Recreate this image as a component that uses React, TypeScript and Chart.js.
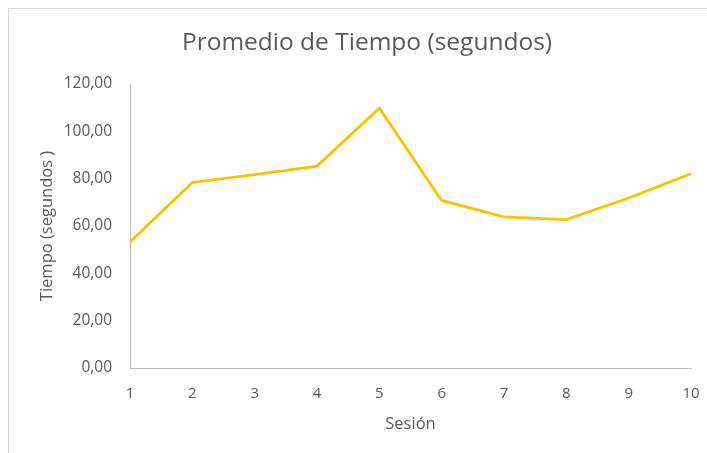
import React, { useEffect, useRef } from 'react';
import { Chart, registerables } from 'chart.js';

Chart.register(...registerables);

const chartTitle = 'Promedio de Tiempo (segundos)';
const xAxisTitle = 'Sesión';
const yAxisTitle = 'Tiempo (segundos )';
const sessions = ['1', '2', '3', '4', '5', '6', '7', '8', '9', '10'];
const avgTimes = [53.2, 78.4, 81.7, 85.3, 109.8, 70.8, 63.9, 62.7, 71.8, 82.1];
const yMin = 0;
const yMax = 120;
const yStep = 20;

const FONT = "'Open Sans', 'Liberation Sans', sans-serif";
const TEXT = '#595959';
const AXIS = '#bfbfbf';

export default function App() {
  const ref = useRef<HTMLCanvasElement | null>(null);

  useEffect(() => {
    if (!ref.current) return;
    const chart = new Chart(ref.current, {
      type: 'line',
      data: {
        labels: sessions,
        datasets: [
          {
            label: chartTitle,
            data: avgTimes,
            borderColor: '#FFC000',
            backgroundColor: '#FFC000',
            borderWidth: 2.75,
            pointRadius: 0,
            tension: 0,
            fill: false,
          },
        ],
      },
      options: {
        responsive: false,
        animation: false,
        layout: { padding: { left: 34, right: 16, top: 0, bottom: 0 } },
        plugins: {
          legend: { display: false },
          tooltip: { enabled: false },
          title: {
            display: true,
            text: chartTitle,
            color: TEXT,
            font: { family: FONT, size: 24.5, weight: 'normal' },
            padding: { top: 19.3, bottom: 26.3 },
          },
        },
        scales: {
          x: {
            type: 'category',
            offset: false,
            grid: { display: false, drawTicks: true, tickLength: 11 },
            border: { display: true, color: AXIS, width: 1 },
            ticks: {
              color: TEXT,
              font: { family: FONT, size: 15 },
              padding: 6,
              maxRotation: 0,
              autoSkip: false,
            },
            title: {
              display: true,
              text: xAxisTitle,
              color: TEXT,
              font: { family: FONT, size: 16.5 },
              padding: { top: 0, bottom: 19 },
            },
            afterFit: (scale: any) => {
              scale.height = 85;
            },
          },
          y: {
            min: yMin,
            max: yMax,
            grid: { display: false, drawTicks: false },
            border: { display: true, color: AXIS, width: 1 },
            ticks: {
              stepSize: yStep,
              color: TEXT,
              font: { family: FONT, size: 15.5 },
              padding: 18,
              callback: (v: any) => Number(v).toFixed(2).replace('.', ','),
            },
            title: {
              display: true,
              text: yAxisTitle,
              color: TEXT,
              font: { family: FONT, size: 16.5 },
              padding: { top: -6, bottom: 0 },
            },
            afterFit: (scale: any) => {
              scale.width = 87;
            },
          },
        },
      },
    });
    return () => chart.destroy();
  }, []);

  return (
    <div
      style={{
        position: 'fixed',
        left: 8,
        top: 8,
        width: 699,
        height: 445,
        boxSizing: 'border-box',
        borderTop: '1px solid #d9d9d9',
        borderLeft: '1px solid #d9d9d9',
        background: '#fff',
      }}
    >
      <canvas ref={ref} width={698} height={444} style={{ display: 'block' }} />
    </div>
  );
}
